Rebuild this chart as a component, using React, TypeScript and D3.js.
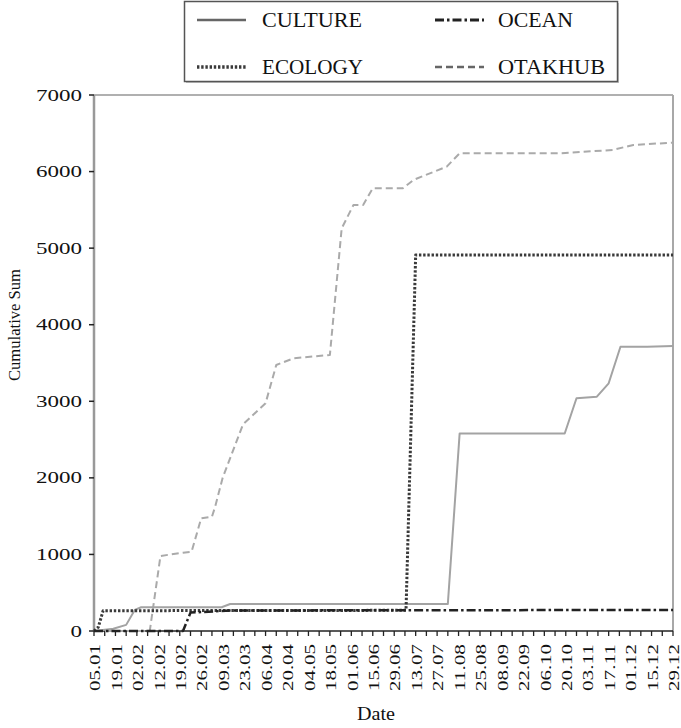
import React from 'react';
import * as d3 from 'd3';

const dateLabels = ['05.01','19.01','02.02','12.02','19.02','26.02','09.03','23.03','06.04','20.04','04.05','18.05','01.06','15.06','29.06','13.07','27.07','11.08','25.08','08.09','22.09','06.10','20.10','03.11','17.11','01.12','15.12','29.12'];
const yTicks = [0, 1000, 2000, 3000, 4000, 5000, 6000, 7000];

// positions in weekly steps (0..54), values = cumulative sum
const otakhubT = [0, 5.2, 6.2, 8.3, 9.1, 10.0, 11.0, 11.3, 12.0, 13.9, 16.0, 17.0, 18.6, 22.0, 23.1, 24.2, 25.1, 26.0, 28.8, 29.8, 32.9, 34.1, 43.5, 46.0, 48.4, 50.3, 54];
const otakhubV = [0, 0, 980, 1023, 1036, 1472, 1493, 1624, 2000, 2700, 2974, 3474, 3561, 3605, 5259, 5564, 5564, 5782, 5782, 5891, 6065, 6239, 6239, 6261, 6283, 6348, 6378];

const cultureT = [0, 1.8, 3.0, 3.8, 4.4, 11.9, 12.7, 33.0, 34.1, 43.9, 45.0, 46.9, 48.0, 49.1, 51.6, 54];
const cultureV = [0, 30, 80, 275, 310, 310, 352, 352, 2580, 2580, 3039, 3060, 3235, 3713, 3713, 3722];

const ecologyT = [0, 0.4, 0.85, 29.1, 30.0, 54];
const ecologyV = [0, 50, 265, 270, 4911, 4911];

const oceanT = [0, 8.3, 9.0, 12.7, 54];
const oceanV = [0, 0, 240, 268, 275];

const series = [
  { name: 'OTAKHUB', t: otakhubT, v: otakhubV, color: '#aaaaaa', width: 2, dash: '7 4' },
  { name: 'CULTURE', t: cultureT, v: cultureV, color: '#a3a3a3', width: 2, dash: null },
  { name: 'ECOLOGY', t: ecologyT, v: ecologyV, color: '#3a3a3a', width: 3, dash: '2.4 1.8' },
  { name: 'OCEAN', t: oceanT, v: oceanV, color: '#222222', width: 2.5, dash: '9 3 2.5 3' },
];

const W = 681, H = 728;
const L = 94, R = 673, T = 95, B = 631;
const FONT = "'Liberation Serif', 'DejaVu Serif', serif";

export default function App() {
  const x = d3.scaleLinear().domain([0, 54]).range([L, R]);
  const y = d3.scaleLinear().domain([0, 7000]).range([B, T]);
  const line = d3.line<[number, number]>().x(d => x(d[0])).y(d => y(d[1]));
  const minor = d3.range(0, 55);
  const ts = { fontFamily: FONT };

  const legendItems = [
    { s: series[1], lx: 197, ty: 20, tx: 262, len: 100 },
    { s: series[3], lx: 435, ty: 20, tx: 498, len: 75 },
    { s: series[2], lx: 197, ty: 67, tx: 262, len: 101 },
    { s: series[0], lx: 435, ty: 67, tx: 498, len: 107 },
  ];

  return (
    <svg width={W} height={H} style={{ position: 'absolute', left: 0, top: 0, background: '#fff' }}>
      <rect x={0} y={0} width={W} height={H} fill="#fff" />
      {/* plot frame */}
      <line x1={L} y1={T} x2={R} y2={T} stroke="#b0b0b0" strokeWidth={2} />
      <line x1={R} y1={T} x2={R} y2={B} stroke="#a8a8a8" strokeWidth={2} />
      <line x1={L} y1={T} x2={L} y2={B} stroke="#999" strokeWidth={2.5} />
      {/* y ticks and labels */}
      {yTicks.map(v => (
        <g key={v}>
          <line x1={L - 5} x2={L} y1={y(v)} y2={y(v)} stroke="#222" strokeWidth={1.5} />
          <text x={82} y={y(v)} dy="0.35em" textAnchor="end" fontSize={16} fill="#111" style={ts}
            textLength={String(v).length * 11.5} lengthAdjust="spacingAndGlyphs">{v}</text>
        </g>
      ))}
      {/* x axis */}
      <line x1={L} y1={B} x2={R} y2={B} stroke="#222" strokeWidth={1.5} />
      {minor.map(i => (
        <line key={i} x1={x(i)} x2={x(i)} y1={B} y2={B + 5} stroke="#222" strokeWidth={1.3} />
      ))}
      {dateLabels.map((d, i) => (
        <text key={d} transform={`translate(${x(i * 2) + 1},${644}) rotate(-90)`} dy="0.35em" textAnchor="end"
          fontSize={15} fill="#111" style={ts} textLength={47} lengthAdjust="spacingAndGlyphs">{d}</text>
      ))}
      <text x={376} y={720} textAnchor="middle" fontSize={18} fill="#111" style={ts} textLength={38} lengthAdjust="spacingAndGlyphs">Date</text>
      <text transform={`translate(${20},${325}) rotate(-90)`} textAnchor="middle" fontSize={17} fill="#111" style={ts}
        textLength={112} lengthAdjust="spacingAndGlyphs">Cumulative Sum</text>
      {/* series */}
      {series.map(s => (
        <path key={s.name} d={line(s.t.map((t, i) => [t, s.v[i]] as [number, number])) || ''}
          fill="none" stroke={s.color} strokeWidth={s.width} strokeDasharray={s.dash || undefined} strokeLinejoin="round" />
      ))}
      {/* legend */}
      <rect x={186} y={3} width={433} height={80} fill="#888" opacity={0.5} />
      <rect x={184.5} y={1.5} width={433} height={80} fill="#fff" stroke="#555" strokeWidth={1.5} />
      {legendItems.map(it => (
        <g key={it.s.name}>
          <line x1={it.lx} x2={it.lx + 49} y1={it.ty} y2={it.ty} stroke={it.s.color === '#aaaaaa' || it.s.color === '#a3a3a3' ? '#666' : it.s.color}
            strokeWidth={it.s.width + 0.5} strokeDasharray={it.s.dash || undefined} />
          <text x={it.tx} y={it.ty} dy="0.35em" fontSize={21} fill="#111" style={ts} textLength={it.len} lengthAdjust="spacingAndGlyphs">{it.s.name}</text>
        </g>
      ))}
    </svg>
  );
}
